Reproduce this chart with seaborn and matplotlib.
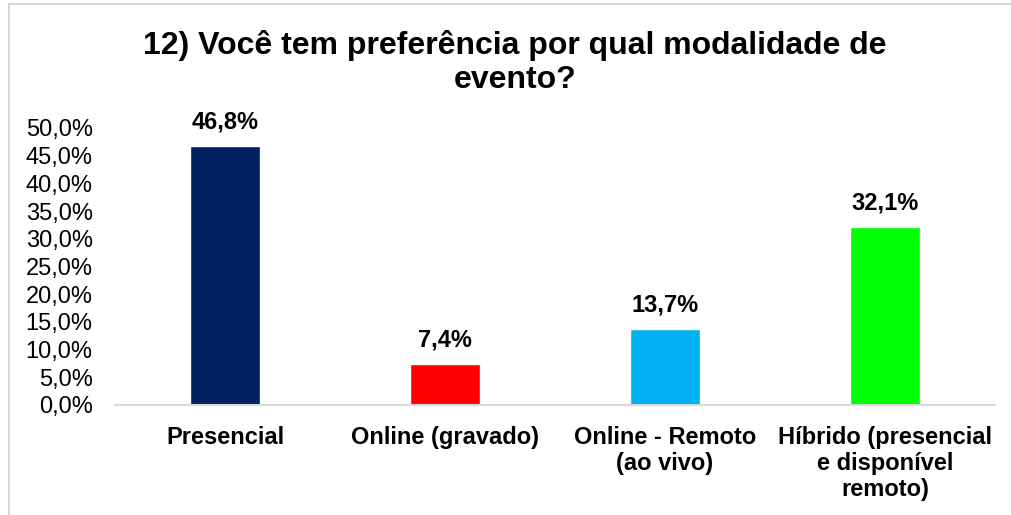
import matplotlib
matplotlib.use("Agg")
import matplotlib.pyplot as plt
import seaborn as sns
import pandas as pd
from matplotlib.lines import Line2D

categories = ["Presencial", "Online (gravado)", "Online - Remoto\n(ao vivo)",
              "Híbrido (presencial\ne disponível\nremoto)"]
values = [0.468, 0.074, 0.137, 0.321]
colors = ["#002060", "#FF0000", "#00B0F0", "#00FF00"]
yticks = [0.0, 0.05, 0.10, 0.15, 0.20, 0.25, 0.30, 0.35, 0.40, 0.45, 0.50]
title = "12) Você tem preferência por qual modalidade de\nevento?"

sns.set_theme(style="white")
plt.rcParams["font.family"] = ["Liberation Sans", "DejaVu Sans"]
plt.rcParams["text.color"] = "black"
plt.rcParams["xtick.color"] = "black"
plt.rcParams["ytick.color"] = "black"

fig = plt.figure(figsize=(10.12, 5.15), dpi=100)
ax = fig.add_axes([0.1136, 0.2136, 0.8694, 0.5379])

df = pd.DataFrame({"cat": categories, "val": values})
sns.barplot(data=df, x="cat", y="val", hue="cat", palette=colors,
            legend=False, width=0.32, saturation=1, ax=ax)

ax.set_xlim(-0.5, 3.5)
ax.set_ylim(0, 0.5)
ax.set_yticks(yticks)
ax.set_yticklabels([f"{v*100:.1f}%".replace(".", ",") for v in yticks],
                   fontsize=17, color="black")
ax.tick_params(axis="y", length=0, pad=16)
ax.tick_params(axis="x", length=0, pad=15)
for lbl in ax.get_xticklabels():
    lbl.set_fontweight("bold")
    lbl.set_fontsize(17)
    lbl.set_color("black")
    lbl.set_verticalalignment("top")
    lbl.set_linespacing(1.17)
ax.set_xlabel("")
ax.set_ylabel("")
for s in ["top", "right", "left"]:
    ax.spines[s].set_visible(False)
ax.spines["bottom"].set_color("#D9D9D9")
ax.spines["bottom"].set_linewidth(1.5)

for i, v in enumerate(values):
    ax.annotate(f"{v*100:.1f}%".replace(".", ","), (i, v), xytext=(0, 9),
                textcoords="offset points", ha="center", va="bottom",
                fontsize=17, fontweight="bold", color="black")

fig.text(0.509, 0.942, title, ha="center", va="top", fontsize=23,
         fontweight="bold", linespacing=1.18, color="black")

fig.add_artist(Line2D([0.0085, 0.0085], [0.0, 0.993], transform=fig.transFigure,
                      color="#D9D9D9", lw=1.5))
fig.add_artist(Line2D([0.0085, 1.0], [0.993, 0.993], transform=fig.transFigure,
                      color="#D9D9D9", lw=1.5))

fig.savefig("out.png", dpi=100, facecolor="white")
